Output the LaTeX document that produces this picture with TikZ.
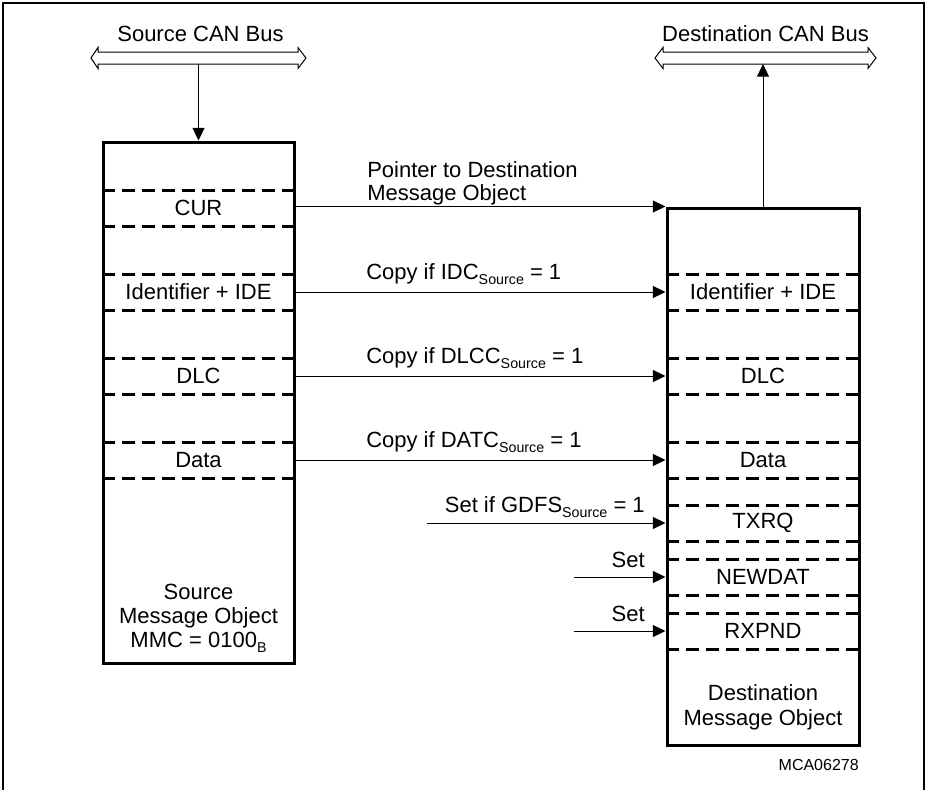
\documentclass[tikz,border=0pt]{standalone}
\usepackage{fontspec}
\setmainfont{Liberation Sans}
\usetikzlibrary{arrows.meta}

% small lowered text for the bit names
\newcommand{\lowtxt}[1]{\raisebox{-0.45ex}{\fontsize{10.7}{11}\selectfont #1}}

\begin{document}
\begin{tikzpicture}[x=0.75pt,y=-0.75pt,
    every node/.style={font=\fontsize{16.5}{18.5}\selectfont, inner sep=0pt},
    objbox/.style={draw, line width=2.25pt},
    sep/.style={line width=2.25pt, dash pattern=on 9.75pt off 5.25pt},
    link/.style={line width=0.75pt, -{Triangle[length=9.5pt,width=9pt]}},
    bus/.style={line width=0.75pt}]
        \useasboundingbox (0,0) rectangle (926,790);

        % Rahmen
        \draw[line width=1.5pt] (3,790) -- (3,3) -- (924,3) -- (924,790);

        % Busse
        \node[anchor=base] (srcbuslbl) at (200.5,41.5) {Source CAN Bus};
        \draw[bus] (91,58) -- (98,47.5) -- (98,52) -- (298,52) -- (298,47.5) -- (306,58)
            -- (298,68.5) -- (298,64) -- (98,64) -- (98,68.5) -- cycle;
        \coordinate (srcbus) at (198.5,64);

        \node[anchor=base] (dstbuslbl) at (765.5,41.5) {Destination CAN Bus};
        \draw[bus] (655,58) -- (663,47.5) -- (663,52) -- (868,52) -- (868,47.5) -- (876,58)
            -- (868,68.5) -- (868,64) -- (663,64) -- (663,68.5) -- cycle;
        \coordinate (dstbus) at (763,64);

        % Quell-Objekt
        \node[objbox, minimum width=143.25pt, minimum height=390.75pt] (src) at (198.5,402.5) {};
        \foreach \y in {190,226,274,310,358,394,442,478}
            \draw[sep] (src.west |- 0,\y) -- (src.east |- 0,\y);
        \node (scur) at (198.5,208) {CUR};
        \node (sid) at (198.5,292) {Identifier + IDE};
        \node (sdlc) at (198.5,376) {DLC};
        \node (sdata) at (198.5,460) {Data};
        \node[align=center, font=\fontsize{16.5}{18}\selectfont] (srclbl) at (198.5,618)
            {Source\\Message Object\\MMC = 0100\lowtxt{B}};

        % Ziel-Objekt
        \node[objbox, minimum width=144pt, minimum height=402.75pt] (dst) at (763,476.5) {};
        \foreach \y in {274,310,358,394,442,478,505,541,559,595,613,649}
            \draw[sep] (dst.west |- 0,\y) -- (dst.east |- 0,\y);
        \node (did) at (763,292) {Identifier + IDE};
        \node (ddlc) at (763,376) {DLC};
        \node (ddata) at (763,460) {Data};
        \node (txrq) at (763,523) {TXRQ};
        \node (newdat) at (763,577) {NEWDAT};
        \node (rxpnd) at (763,631) {RXPND};
        \node[align=center] (dstlbl) at (763,707) {Destination\\Message Object};

        % Pfeile Bus
        \draw[link] (srcbus) -- (src.north);
        \draw[link] (dst.north) -- (dstbus);

        % Kopierpfeile
        \draw[link] (src.east |- dst.north west) -- (dst.north west);
        \node[anchor=north west, align=left, font=\fontsize{16.5}{17.5}\selectfont] (lptr) at (367,161)
            {Pointer to Destination\\Message Object};
        \draw[link] (src.east |- sid) -- (dst.west |- did);
        \node[anchor=base west] (lidc) at (366,279) {Copy if IDC\lowtxt{Source} = 1};
        \draw[link] (src.east |- sdlc) -- (dst.west |- ddlc);
        \node[anchor=base west] (ldlcc) at (366,363) {Copy if DLCC\lowtxt{Source} = 1};
        \draw[link] (src.east |- sdata) -- (dst.west |- ddata);
        \node[anchor=base west] (ldatc) at (366,447) {Copy if DATC\lowtxt{Source} = 1};

        % Setzen
        \coordinate (gdfsin) at (427,523);
        \draw[link] (gdfsin) -- (dst.west |- txrq);
        \node[anchor=base east] (lgdfs) at (645,512) {Set if GDFS\lowtxt{Source} = 1};
        \coordinate (newin) at (574,577);
        \draw[link] (newin) -- (dst.west |- newdat);
        \node[anchor=base east] (lnew) at (645,567) {Set};
        \coordinate (rxin) at (574,631);
        \draw[link] (rxin) -- (dst.west |- rxpnd);
        \node[anchor=base east] (lrx) at (645,621) {Set};

        \node[anchor=base east, font=\fontsize{12}{14}\selectfont] (fig) at (859,770) {MCA06278};
    \end{tikzpicture}
\end{document}
